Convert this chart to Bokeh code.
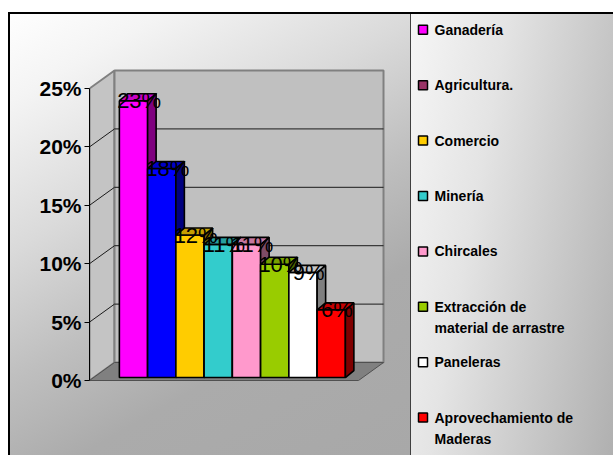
from bokeh.plotting import figure
from bokeh.layouts import row
from bokeh.models import Range1d, FixedTicker, PrintfTickFormatter
from bokeh.core.properties import value
from bokeh.embed import file_html
from bokeh.resources import INLINE

# ---------------- data ----------------
categories = ["Ganadería", "Agricultura.", "Comercio", "Minería", "Chircales",
              "Extracción de\nmaterial de arrastre", "Paneleras",
              "Aprovechamiento de\nMaderas"]
values = [23.7, 17.9, 12.2, 11.4, 11.4, 9.7, 9.0, 5.8]
value_labels = ["23%", "18%", "12%", "11%", "11%", "10%", "9%", "6%"]
bar_colors = ["#FF00FF", "#0000FF", "#FFCC00", "#33CCCC", "#FF99CC",
              "#99CC00", "#FFFFFF", "#FF0000"]
legend_colors = ["#FF00FF", "#993366", "#FFCC00", "#33CCCC", "#FF99CC",
                 "#99CC00", "#FFFFFF", "#FF0000"]
y_ticks = [0, 5, 10, 15, 20, 25]

# ---------------- geometry ----------------
PX_X = 28.25          # pixels per category unit
PX_Y = 11.68          # pixels per percent
X0, X1 = -1.5575, 9.805
Y0, Y1 = -6.42, 31.85
DX, DY = 25 / PX_X, 18 / PX_Y      # wall depth (oblique)
BDX, BDY = 8.5 / PX_X, 7 / PX_Y    # bar depth
FR = 7.965                          # floor right edge (front)
B = DY / 6                          # bars stand slightly behind floor front
YMAX = y_ticks[-1]


def shade(hx, f):
    hx = hx.lstrip("#")
    r, g, b = (int(hx[k:k + 2], 16) for k in (0, 2, 4))
    return "#%02x%02x%02x" % (int(r * f), int(g * f), int(b * f))


main_bg = ("linear-gradient(#ffffff,#ffffff) 0 0/100% 4px no-repeat, "
           "linear-gradient(#000,#000) 0 4px/100% 2px no-repeat, "
           "linear-gradient(#000,#000) 0 4px/2px 100% no-repeat, "
           "linear-gradient(150deg, #ffffff 0%, #f4f4f4 14%, #dadada 36%, "
           "#bfbfbf 55%, #ababab 72%, #a8a8a8 100%)")
legend_bg = ("linear-gradient(#ffffff,#ffffff) 0 0/100% 4px no-repeat, "
             "linear-gradient(#000,#000) 0 4px/100% 2px no-repeat, "
             "linear-gradient(#404040,#404040) 0 4px/1px 100% no-repeat, "
             "linear-gradient(100deg, #f6f6f6 0%, #e4e4e4 35%, #b0b0b0 100%)")

# ---------------- main chart ----------------
p = figure(width=402, height=447, x_range=Range1d(X0, X1), y_range=Range1d(Y0, Y1),
           output_backend="svg", toolbar_location=None, x_axis_location=None,
           min_border_left=81, min_border_right=0, min_border_top=0,
           min_border_bottom=0)
p.background_fill_alpha = 0
p.border_fill_alpha = 0
p.outline_line_color = None
p.grid.visible = False
p.styles = {"background": main_bg}

# walls and floor
p.patch([X0, X0 + DX, X0 + DX, X0], [0, DY, DY + YMAX, YMAX],
        fill_color="#c4c4c4", line_color="#808080", line_width=2)
p.patch([X0 + DX, FR + DX, FR + DX, X0 + DX], [DY, DY, DY + YMAX, DY + YMAX],
        fill_color="#c0c0c0", line_color="#808080", line_width=2)
p.patch([X0, FR, FR + DX, X0 + DX], [0, 0, DY, DY],
        fill_color="#808080", line_color="#505050", line_width=1)

mid = y_ticks[1:-1]
p.segment(x0=[X0 + DX] * len(mid), y0=[t + DY for t in mid],
          x1=[FR + DX] * len(mid), y1=[t + DY for t in mid],
          line_color="#1a1a1a", line_width=1)
p.segment(x0=[X0] * len(mid), y0=mid,
          x1=[X0 + DX] * len(mid), y1=[t + DY for t in mid],
          line_color="#1a1a1a", line_width=1)

# 3D bars
xs, ys, fills = [], [], []
for i, (v, c) in enumerate(zip(values, bar_colors)):
    l, r = i - 0.5, i + 0.5
    xs.append([l, r, r, l]); ys.append([B, B, B + v, B + v]); fills.append(c)
    xs.append([r, r + BDX, r + BDX, r])
    ys.append([B, B + BDY, B + BDY + v, B + v]); fills.append(shade(c, 0.5))
    xs.append([l, l + BDX, r + BDX, r])
    ys.append([B + v, B + v + BDY, B + v + BDY, B + v]); fills.append(shade(c, 0.78))
p.patches(xs=xs, ys=ys, fill_color=fills, line_color="black", line_width=1.6)

p.text(x=[i + 0.2 for i in range(len(values))], y=[B + v for v in values],
       text=value_labels, text_align="center", text_baseline="alphabetic",
       text_font=value("Liberation Sans"), text_font_size="22px",
       text_color="black")

ax = p.yaxis[0]
ax.ticker = FixedTicker(ticks=y_ticks)
ax.formatter = PrintfTickFormatter(format="%d%%")
ax.bounds = (0, YMAX)
ax.major_tick_out = 5
ax.major_tick_in = 0
ax.minor_tick_out = 0
ax.minor_tick_in = 0
ax.axis_line_color = "black"
ax.major_tick_line_color = "black"
ax.major_label_text_font = "Liberation Sans"
ax.major_label_text_font_style = "bold"
ax.major_label_text_font_size = "21px"
ax.major_label_text_color = "black"
ax.major_label_standoff = 3

# ---------------- legend panel ----------------
q = figure(width=203, height=447, x_range=Range1d(0, 203), y_range=Range1d(447, 0),
           output_backend="svg", toolbar_location=None, x_axis_location=None,
           y_axis_location=None, min_border_left=0, min_border_right=0,
           min_border_top=0, min_border_bottom=0)
q.background_fill_alpha = 0
q.border_fill_alpha = 0
q.outline_line_color = None
q.grid.visible = False
q.styles = {"background": legend_bg}

STEP = 55.4
TOP = 21.3
LINE = 21
q.scatter(x=[12.5] * len(categories), y=[TOP + STEP * i for i in range(len(categories))],
          marker="square", size=9, fill_color=legend_colors, line_color="black",
          line_width=1.5)
tx, ty, tt = [], [], []
for i, lab in enumerate(categories):
    for j, line in enumerate(lab.split("\n")):
        tx.append(24); ty.append(TOP + STEP * i + LINE * j); tt.append(line)
q.text(x=tx, y=ty, text=tt, text_align="left", text_baseline="middle",
       text_font=value("Liberation Sans"), text_font_style="bold",
       text_font_size="14px", text_color="black")

layout = row(p, q, spacing=0, margin=(8, 0, 0, 8))
open("out.html", "w").write(file_html(layout, INLINE))
